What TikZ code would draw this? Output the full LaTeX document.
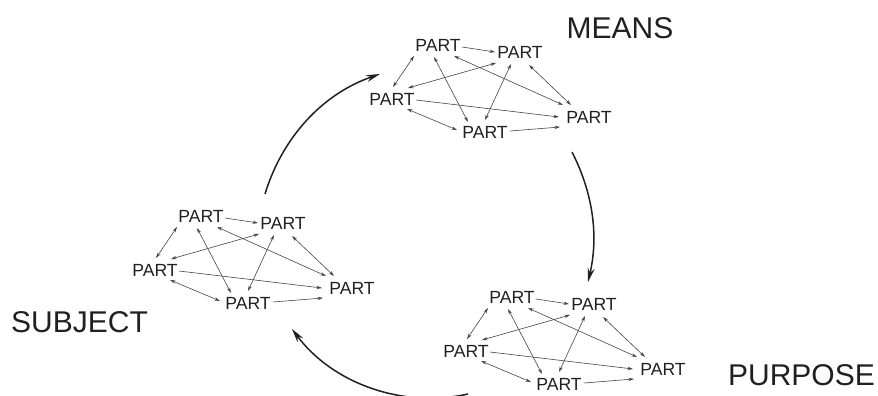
\documentclass[tikz,border=0pt]{standalone}
\usepackage{fontspec}
\setmainfont{Liberation Sans}
\usetikzlibrary{arrows.meta,calc}
\definecolor{linegray}{HTML}{454545}
\definecolor{ink}{HTML}{231F20}
\tikzset{
  part/.style={font=\fontsize{17.6}{17.6}\selectfont, text=ink, inner sep=0pt},
  biglabel/.style={font=\fontsize{30}{30}\selectfont, text=ink, inner sep=0pt},
  link/.style={draw=linegray, line width=0.6pt, -{Stealth[length=5.5pt,width=3.3pt]}},
  dlink/.style={draw=linegray, line width=0.6pt, {Stealth[length=5.5pt,width=3.3pt]}-{Stealth[length=5.5pt,width=3.3pt]}},
  cyclearrow/.style={draw=ink, line width=1.5pt, -{Stealth[length=14pt,width=7pt]}}
}
\newcommand\partcluster[3]{%
  \node[part] (#1c) at (#2,#3) {PART};
  \node[part] (#1a) at ({#2+46},{#3-54}) {PART};
  \node[part] (#1b) at ({#2+128},{#3-47}) {PART};
  \node[part] (#1d) at ({#2+93},{#3+33}) {PART};
  \node[part] (#1e) at ({#2+197},{#3+18}) {PART};
  \draw[link]  ($(#1a)+(24,2)$)   -- ($(#1b)+(-25,0)$);
  \draw[dlink] ($(#1a)+(-24,11)$) -- ($(#1c)+(1,-12)$);
  \draw[dlink] ($(#1a)+(-4,12)$)  -- ($(#1d)+(-17,-10)$);
  \draw[dlink] ($(#1a)+(16,11)$)  -- ($(#1e)+(-26,-12)$);
  \draw[dlink] ($(#1b)+(-24,11)$) -- ($(#1c)+(16,-11)$);
  \draw[dlink] ($(#1b)+(-9,12)$)  -- ($(#1d)+(0,-12)$);
  \draw[dlink] ($(#1b)+(9,13)$)   -- ($(#1e)+(-18,-12)$);
  \draw[link]  ($(#1c)+(24,1)$)   -- ($(#1e)+(-30,0)$);
  \draw[dlink] ($(#1c)+(15,10)$)  -- ($(#1d)+(-28,-2)$);
  \draw[link]  ($(#1d)+(25,-1)$)  -- ($(#1e)+(-29,10)$);
}
\begin{document}
\begin{tikzpicture}[x=1pt,y=-1pt]
  \useasboundingbox (0,0) rectangle (878,396);
  \clip (0,0) rectangle (878,396);
  \fill[white] (0,0) rectangle (878,396);

  \partcluster{m}{392}{99}
  \partcluster{s}{155}{270}
  \partcluster{p}{466}{351}

  \node[biglabel] (means) at (620,28) {MEANS};
  \node[biglabel] (subject) at (79.5,322) {SUBJECT};
  \node[biglabel] (purpose) at (801.5,375) {PURPOSE};

  \coordinate (s1) at (265,194);
  \coordinate (t1) at (380,74);
  \coordinate (s2) at (572,152);
  \coordinate (t2) at (588,282);
  \coordinate (s3) at (468,394);
  \coordinate (t3) at (292,329);
  \draw[cyclearrow] (s1) .. controls (282.5,136.6) and (323.2,93.6) .. (t1);
  \draw[cyclearrow] (s2) .. controls (593.3,193.9) and (598.6,236.2) .. (t2);
  \draw[cyclearrow] (s3) .. controls (402.1,408.8) and (332.4,383.1) .. (t3);
\end{tikzpicture}
\end{document}
